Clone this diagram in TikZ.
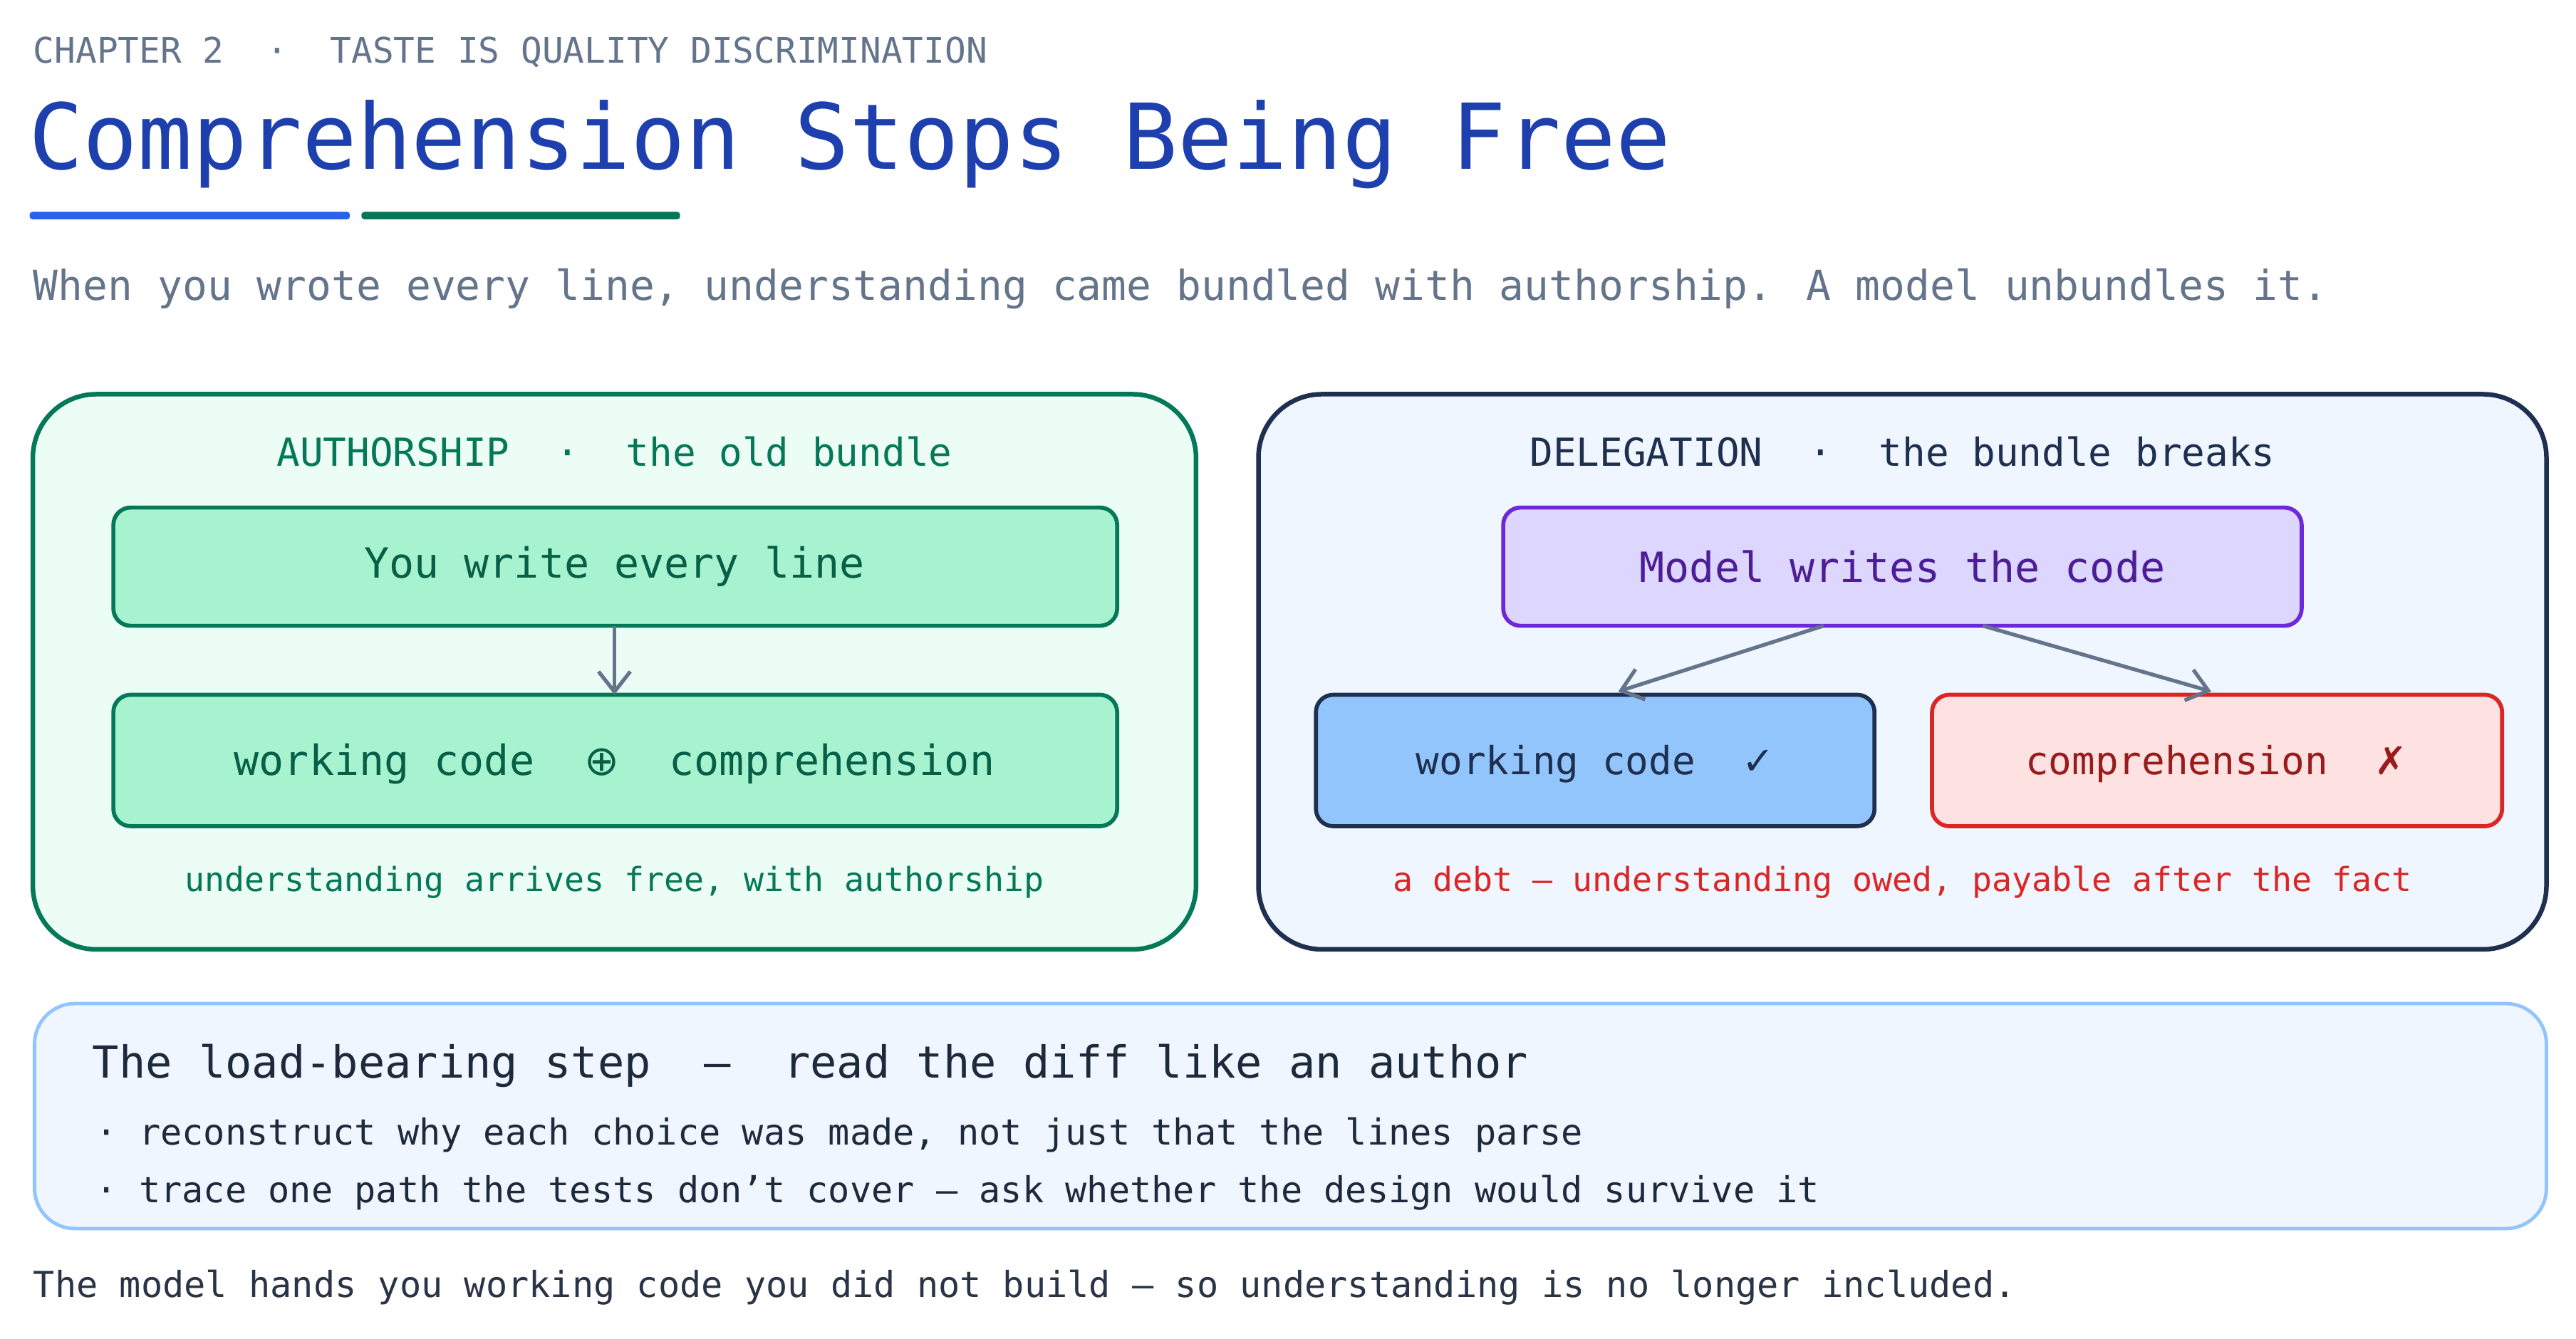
\documentclass[tikz,border=0pt]{standalone}
\usepackage{fontspec}
\setmainfont{DejaVu Sans Mono}
\newfontfamily\symfont{DejaVu Sans}
\usetikzlibrary{arrows.meta,positioning}

\definecolor{inkblue}{HTML}{1E40AF}
\definecolor{lineblue}{HTML}{2563EB}
\definecolor{deepgreen}{HTML}{047857}
\definecolor{textgreen}{HTML}{065F46}
\definecolor{slate}{HTML}{64748B}
\definecolor{navy}{HTML}{1E2F4F}
\definecolor{mintfill}{HTML}{ECFDF5}
\definecolor{mintbox}{HTML}{A7F3D0}
\definecolor{skyfill}{HTML}{EFF6FF}
\definecolor{skybox}{HTML}{93C5FD}
\definecolor{lilac}{HTML}{DDD6FE}
\definecolor{violet}{HTML}{6D28D9}
\definecolor{plum}{HTML}{4C1D95}
\definecolor{rosefill}{HTML}{FEE2E2}
\definecolor{alarm}{HTML}{DC2626}
\definecolor{wine}{HTML}{991B1B}
\definecolor{darktext}{HTML}{1E293B}

\tikzset{
    panel/.style={rounded corners=22pt, line width=1.6pt},
    stepbox/.style={rounded corners=6pt, line width=1.4pt},
    flow/.style={draw=slate, line width=1.3pt, -{Straight Barb[length=7pt,width=11pt]}},
    txt/.style={inner sep=0pt, anchor=west},
}

\begin{document}
\begin{tikzpicture}[x=0.02cm, y=-0.02cm]
        \useasboundingbox (0,0) rectangle (1568,815.2);

        % header
        \node[txt, text=slate, font=\fontsize{12.2}{14}\selectfont] (chapter) at (20,32) {CHAPTER 2 \ · \ TASTE IS QUALITY DISCRIMINATION};
        \node[txt, text=inkblue, font=\fontsize{31.5}{36}\selectfont] (title) at (17,88) {Comprehension Stops Being Free};
        \fill[lineblue, rounded corners=1pt] (18,129) rectangle (213,133.5);
        \fill[deepgreen, rounded corners=1pt] (220,129) rectangle (414,133.5);
        \node[txt, text=slate, font=\fontsize{14.3}{17}\selectfont] (lede) at (20,176) {When you wrote every line, understanding came bundled with authorship. A model unbundles it.};

        % left panel
        \draw[panel, draw=deepgreen, fill=mintfill] (20,240) rectangle (728,578);
        \node[text=deepgreen, font=\fontsize{13.4}{16}\selectfont] (oldhead) at (374,275) {AUTHORSHIP \ · \ the old bundle};
        \draw[stepbox, draw=deepgreen, fill=mintbox] (69,309) rectangle (680,381);
        \node[text=textgreen, font=\fontsize{14.4}{17}\selectfont] (write) at (374,345) {You write every line};
        \draw[stepbox, draw=deepgreen, fill=mintbox] (69,423) rectangle (680,503);
        \node[text=textgreen, font=\fontsize{14.4}{17}\selectfont] (bundle) at (374,465) {working code \ {\symfont ⊕} \ comprehension};
        \coordinate (writeS) at (374,381);
        \coordinate (bundleN) at (374,423);
        \draw[flow] (writeS) -- (bundleN);
        \node[text=deepgreen, font=\fontsize{11.5}{14}\selectfont] (oldnote) at (374,537) {understanding arrives free, with authorship};

        % right panel
        \draw[panel, draw=navy, fill=skyfill] (766,240) rectangle (1550,578);
        \node[text=navy, font=\fontsize{13.4}{16}\selectfont] (newhead) at (1158,275) {DELEGATION \ · \ the bundle breaks};
        \draw[stepbox, draw=violet, fill=lilac] (915,309) rectangle (1401,381);
        \node[text=plum, font=\fontsize{14.4}{17}\selectfont] (model) at (1158,345) {Model writes the code};
        \draw[stepbox, draw=navy, fill=skybox] (801,423) rectangle (1141,503);
        \node[text=navy, font=\fontsize{13.4}{16}\selectfont] (works) at (971,465) {working code \ {\symfont ✓}};
        \draw[stepbox, draw=alarm, fill=rosefill] (1176,423) rectangle (1523,503);
        \node[text=wine, font=\fontsize{13.4}{16}\selectfont] (owed) at (1349,465) {comprehension \ {\symfont ✗}};
        \coordinate (modelL) at (1110,381);
        \coordinate (modelR) at (1207,381);
        \coordinate (worksN) at (985,421);
        \coordinate (owedN) at (1346,421);
        \draw[flow] (modelL) -- (worksN);
        \draw[flow] (modelR) -- (owedN);
        \node[text=alarm, font=\fontsize{11.5}{14}\selectfont] (newnote) at (1158,537) {a debt — understanding owed, payable after the fact};

        % load-bearing step
        \draw[draw=skybox, fill=skyfill, rounded corners=14pt, line width=1.2pt] (21,611) rectangle (1550,748);
        \node[txt, text=darktext, font=\fontsize{15.3}{18}\selectfont] (stephead) at (56,649) {The load-bearing step \ — \ read the diff like an author};
        \node[txt, text=darktext, font=\fontsize{12.4}{15}\selectfont] (bulletA) at (58,691) {· reconstruct why each choice was made, not just that the lines parse};
        \node[txt, text=darktext, font=\fontsize{12.4}{15}\selectfont] (bulletB) at (58,726) {· trace one path the tests don't cover — ask whether the design would survive it};

        \node[txt, text=darktext!85!slate, font=\fontsize{12.4}{15}\selectfont] (footer) at (20,784) {The model hands you working code you did not build — so understanding is no longer included.};
    \end{tikzpicture}
\end{document}
